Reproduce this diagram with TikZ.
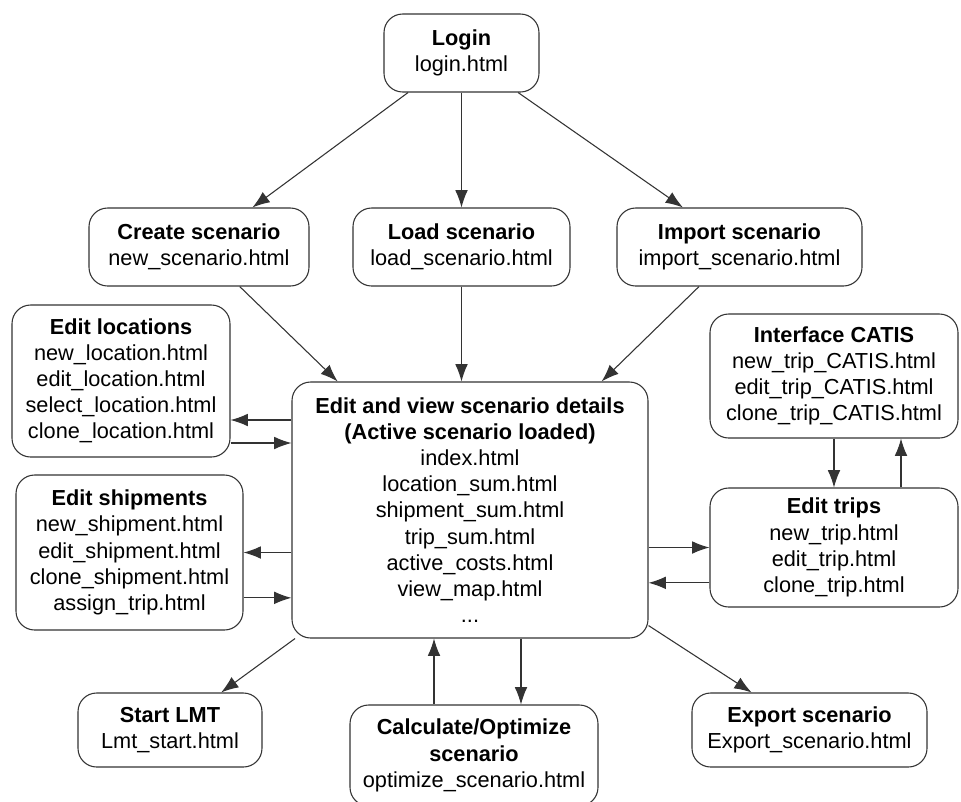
\documentclass[tikz,border=0pt]{standalone}
\usepackage{fontspec}
\setmainfont{Liberation Sans}
\usetikzlibrary{arrows.meta}
\begin{document}
\begin{tikzpicture}[x=0.75pt,y=-0.75pt,
  box/.style={draw=black!80, line width=0.8pt, rounded corners=14pt, fill=white,
    align=center, inner sep=0pt, font=\fontsize{16.3}{19.6}\selectfont},
  arr/.style={draw=black!80, line width=0.8pt, -{Latex[length=13pt,width=9.5pt]}}]
\useasboundingbox[fill=white] (0,0) rectangle (961,801);

\node[box, minimum width=155*0.75pt, minimum height=78*0.75pt] (login) at (461.5,53)
  {\textbf{Login}\\login.html};
\node[box, minimum width=220*0.75pt, minimum height=78*0.75pt] (create) at (199,247)
  {\textbf{Create scenario}\\new\_scenario.html};
\node[box, minimum width=217*0.75pt, minimum height=78*0.75pt] (load) at (461.5,247)
  {\textbf{Load scenario}\\load\_scenario.html};
\node[box, minimum width=245*0.75pt, minimum height=78*0.75pt] (import) at (739.5,247)
  {\textbf{Import scenario}\\import\_scenario.html};
\node[box, minimum width=218*0.75pt, minimum height=152*0.75pt] (editloc) at (121,381)
  {\textbf{Edit locations}\\new\_location.html\\edit\_location.html\\select\_location.html\\clone\_location.html};
\node[box, minimum width=227*0.75pt, minimum height=155*0.75pt] (editship) at (129.5,552.5)
  {\textbf{Edit shipments}\\new\_shipment.html\\edit\_shipment.html\\clone\_shipment.html\\assign\_trip.html};
\node[box, minimum width=356*0.75pt, minimum height=256*0.75pt] (main) at (470,510)
  {\textbf{Edit and view scenario details}\\\textbf{(Active scenario loaded)}\\index.html\\location\_sum.html\\shipment\_sum.html\\trip\_sum.html\\active\_costs.html\\view\_map.html\\...};
\node[box, minimum width=248*0.75pt, minimum height=124*0.75pt] (catis) at (834,376)
  {\textbf{Interface CATIS}\\new\_trip\_CATIS.html\\edit\_trip\_CATIS.html\\clone\_trip\_CATIS.html};
\node[box, minimum width=248*0.75pt, minimum height=119*0.75pt] (trips) at (834,547.5)
  {\textbf{Edit trips}\\new\_trip.html\\edit\_trip.html\\clone\_trip.html};
\node[box, minimum width=184*0.75pt, minimum height=74*0.75pt] (lmt) at (170,730)
  {\textbf{Start LMT}\\Lmt\_start.html};
\node[box, minimum width=248*0.75pt, minimum height=101*0.75pt] (calc) at (474,755.5)
  {\textbf{Calculate/Optimize}\\\textbf{scenario}\\optimize\_scenario.html};
\node[box, minimum width=235*0.75pt, minimum height=74*0.75pt] (export) at (809.5,730)
  {\textbf{Export scenario}\\Export\_scenario.html};

% Login
\draw[arr] (login) -- (create);
\draw[arr] (login) -- (load);
\draw[arr] (login) -- (import);
% into main
\draw[arr] (create) -- (main);
\draw[arr] (load.south) -- (load.south |- main.north);
\draw[arr] (import) -- (main);
% locations
\draw[arr] ([yshift=-29.25pt]editloc.east -| main.west) -- ([yshift=-29.25pt]editloc.east);
\draw[arr] ([yshift=-46.5pt]editloc.east) -- ([yshift=-46.5pt]editloc.east -| main.west);
% shipments
\draw[arr] (editship.east -| main.west) -- (editship.east);
\draw[arr] ([yshift=-34pt]editship.east) -- ([yshift=-34pt]editship.east -| main.west);
% trips
\draw[arr] (trips.west -| main.east) -- (trips.west);
\draw[arr] ([yshift=-26.5pt]trips.west) -- ([yshift=-26.5pt]trips.west -| main.east);
% catis
\draw[arr] (catis.south) -- (trips.north);
\draw[arr] ([xshift=50.25pt]trips.north) -- ([xshift=50.25pt]catis.south);
% bottom
\draw[arr] (main) -- (lmt);
\draw[arr] (main) -- (export);
\draw[arr] ([xshift=-30pt]calc.north) -- ([xshift=-30pt]calc.north |- main.south);
\draw[arr] ([xshift=35.25pt]calc.north |- main.south) -- ([xshift=35.25pt]calc.north);
\end{tikzpicture}
\end{document}
